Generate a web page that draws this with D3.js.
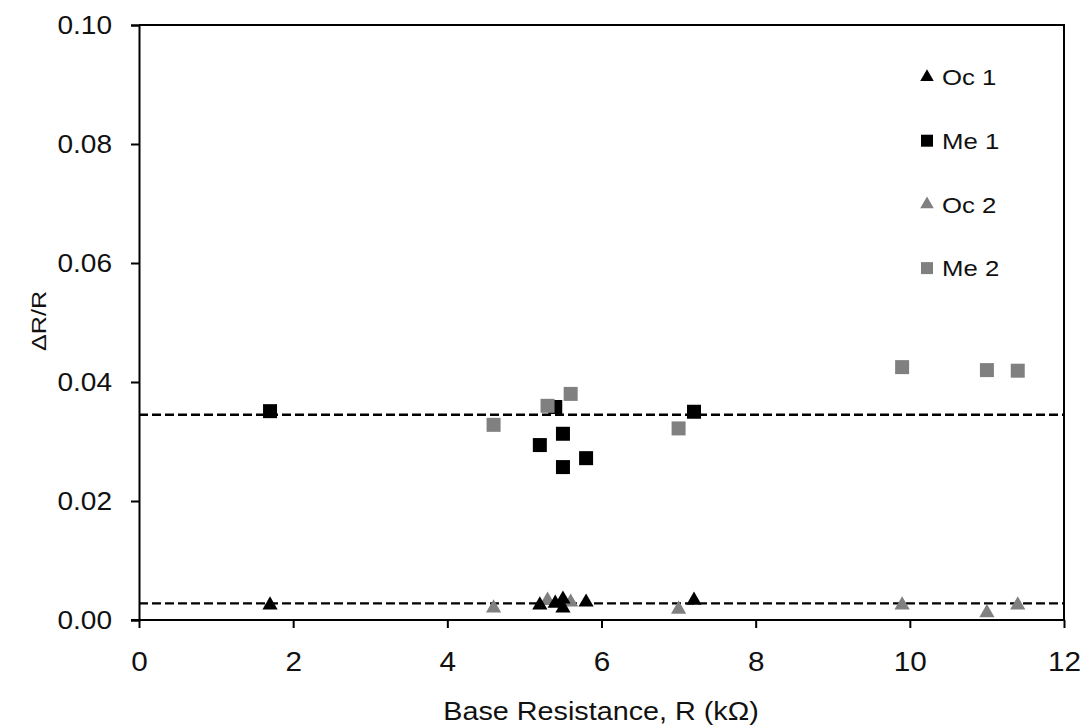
<!DOCTYPE html>
<html>
<head>
<meta charset="utf-8">
<script src="https://cdn.jsdelivr.net/npm/d3@7"></script>
<style>
  body { margin: 0; background: #fff; }
  svg { display: block; font-family: "Liberation Sans", Arial, sans-serif; }
</style>
</head>
<body>
<div id="chart"></div>
<script>
// data
var oc1X = [1.7, 5.2, 5.4, 5.5, 5.5, 5.8, 7.2];
var oc1Y = [0.0025, 0.0025, 0.0028, 0.0035, 0.0020, 0.0030, 0.0033];
var me1X = [1.7, 5.2, 5.4, 5.5, 5.5, 5.8, 7.2];
var me1Y = [0.0351, 0.0294, 0.0358, 0.0313, 0.0257, 0.0272, 0.0350];
var oc2X = [4.6, 5.3, 5.6, 7.0, 9.9, 11.0, 11.4];
var oc2Y = [0.0020, 0.0033, 0.0030, 0.0018, 0.0025, 0.0012, 0.0025];
var me2X = [4.6, 5.3, 5.6, 7.0, 9.9, 11.0, 11.4];
var me2Y = [0.0328, 0.0360, 0.0380, 0.0322, 0.0425, 0.0420, 0.0419];
var meanLines = [0.0345, 0.0028];
var xTicks = [0, 2, 4, 6, 8, 10, 12];
var yTicks = [0, 0.02, 0.04, 0.06, 0.08, 0.10];
var seriesNames = ["Oc 1", "Me 1", "Oc 2", "Me 2"];

var svgWidth = 1084, svgHeight = 728;
var margin = {top: 25, right: 20, bottom: 108, left: 139},
    width = 1064 - margin.left,
    height = 620 - margin.top;

// the original text is a bit wider than Arial, stretch it sideways
var sx = 1.1;

var svg = d3.select("#chart")
  .append("svg")
    .attr("width", svgWidth)
    .attr("height", svgHeight)
  .append("g")
    .attr("transform", "translate(" + margin.left + "," + margin.top + ")");

var x = d3.scaleLinear().domain([0, 12]).range([0, width]);
var y = d3.scaleLinear().domain([0, 0.10]).range([height, 0]);

// frame (top + right)
svg.append("path")
  .attr("d", "M0,0H" + width + "V" + height)
  .attr("fill", "none")
  .attr("stroke", "#000")
  .attr("stroke-width", 2);

// X axis
var xAxis = svg.append("g")
  .attr("transform", "translate(0," + height + ")")
  .call(d3.axisBottom(x).tickValues(xTicks).tickFormat(d3.format("d")).tickSizeOuter(0).tickSize(8).tickPadding(24));
// Y axis
var yAxis = svg.append("g")
  .call(d3.axisLeft(y).tickValues(yTicks).tickFormat(d3.format(".2f")).tickSizeOuter(0).tickSize(8).tickPadding(27));

[xAxis, yAxis].forEach(function(a) {
  a.select(".domain").attr("stroke-width", 2);
  a.selectAll(".tick line").attr("stroke-width", 2);
  a.selectAll("text").attr("font-size", 25.5).attr("fill", "#111")
    .attr("font-family", "Liberation Sans, Arial, sans-serif")
    .attr("transform", "scale(" + sx + ",1)");
});
xAxis.selectAll("text").attr("font-size", 27);
yAxis.selectAll("text").attr("x", -27 / sx);
// extend x domain line under the 0 tick to the left
xAxis.select(".domain").attr("d", "M-8,0H" + width);

// mean lines
svg.selectAll(".mean")
  .data(meanLines)
  .join("line")
    .attr("class", "mean")
    .attr("x1", 0)
    .attr("x2", width)
    .attr("y1", d => y(d))
    .attr("y2", d => y(d))
    .attr("stroke", "#000")
    .attr("stroke-width", 2.3)
    .attr("stroke-dasharray", "9,4");

var sq = d3.symbol().type(d3.symbolSquare).size(196);
var tri = d3.symbol().type(d3.symbolTriangle).size(100);

function plot(xs, ys, symbol, color) {
  svg.append("g")
    .selectAll("path")
    .data(xs.map((v, i) => ({x: v, y: ys[i]})))
    .join("path")
      .attr("d", symbol)
      .attr("transform", d => "translate(" + x(d.x) + "," + y(d.y) + ")")
      .attr("fill", color);
}

plot(oc2X, oc2Y, tri, "#808080");
plot(oc1X, oc1Y, tri, "#000");
plot(me1X, me1Y, sq, "#000");
plot(me2X, me2Y, sq, "#808080");

// legend
var legendSym = [d3.symbol().type(d3.symbolTriangle).size(80), d3.symbol().type(d3.symbolSquare).size(144),
                 d3.symbol().type(d3.symbolTriangle).size(80), d3.symbol().type(d3.symbolSquare).size(144)];
var legendCol = ["#000", "#000", "#808080", "#808080"];
var legend = svg.append("g")
  .selectAll("g")
  .data(seriesNames)
  .join("g")
    .attr("transform", (d, i) => "translate(" + (927 - margin.left) + "," + (77 + i * 63.7 - margin.top) + ")");
legend.append("path")
  .attr("d", (d, i) => legendSym[i]())
  .attr("fill", (d, i) => legendCol[i]);
legend.append("text")
  .attr("transform", "translate(15,0) scale(1.12,1)")
  .attr("dy", "0.36em")
  .attr("font-size", 23)
  .attr("fill", "#111")
  .text(d => d);

// axis titles
svg.append("text")
  .attr("transform", "translate(" + (601 - margin.left) + "," + (height + 100) + ") scale(1.15,1)")
  .attr("text-anchor", "middle")
  .attr("font-size", 25)
  .attr("fill", "#111")
  .text("Base Resistance, R (kΩ)");

svg.append("text")
  .attr("transform", "translate(" + (46 - margin.left) + "," + (321 - margin.top) + ") rotate(-90) scale(1.2,1)")
  .attr("text-anchor", "middle")
  .attr("font-size", 21)
  .attr("fill", "#111")
  .text("ΔR/R");
</script>
</body>
</html>
